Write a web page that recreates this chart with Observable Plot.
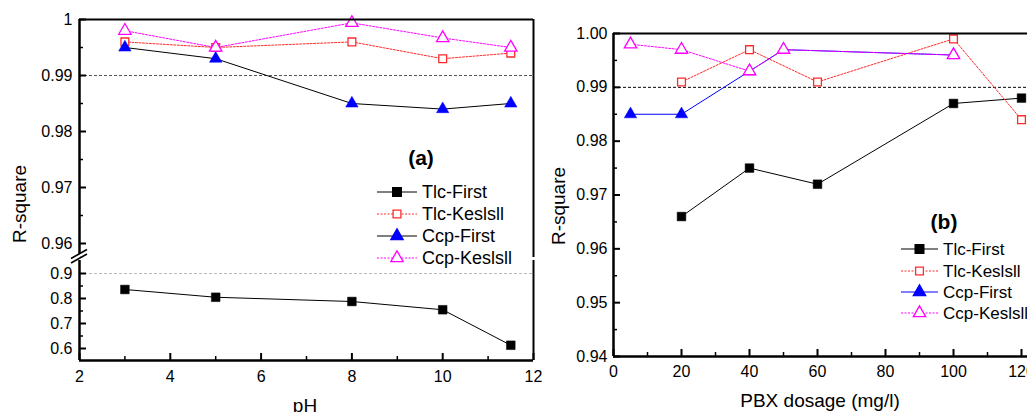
<!DOCTYPE html>
<html><head><meta charset="utf-8">
<script src="https://cdn.jsdelivr.net/npm/d3@7"></script>
<script src="https://cdn.jsdelivr.net/npm/@observablehq/plot@0.6"></script>
<style>
html,body{margin:0;padding:0;background:#fff;overflow:hidden;}
#root{position:relative;width:1027px;height:412px;overflow:hidden;font-family:"Liberation Sans",Arial,sans-serif;}
#root > svg, #root > div{position:absolute;}
</style>
</head><body>
<div id="root"></div>
<script>
// ---------- data ----------
const seriesNames = ["Tlc-First", "Tlc-Keslsll", "Ccp-First", "Ccp-Keslsll"];

// panel (a): pH
const phX = [3, 5, 8, 10, 11.5];
const phTlcFirst = [0.836, 0.805, 0.788, 0.755, 0.613];
const phTlcKesls = [0.996, 0.995, 0.996, 0.993, 0.994];
const phCcpFirst = [0.995, 0.993, 0.985, 0.984, 0.985];
const phCcpKesls = [0.998, 0.995, 0.9994, 0.9967, 0.995];

// panel (b): PBX dosage
const doseTlcX = [20, 40, 60, 100, 120];
const doseTlcFirst = [0.966, 0.975, 0.972, 0.987, 0.988];
const doseTlcKesls = [0.991, 0.997, 0.991, 0.999, 0.984];
const doseCcpX = [5, 20, 40, 50, 100];
const doseCcpFirst = [0.985, 0.985, 0.993, 0.997, 0.996];
const doseCcpKesls = [0.998, 0.997, 0.993, 0.997, 0.996];

// ticks
const aUpperYTicks = [0.96, 0.97, 0.98, 0.99, 1];
const aUpperYMinor = [0.965, 0.975, 0.985, 0.995];
const aLowerYTicks = [0.6, 0.7, 0.8, 0.9];
const aLowerYMinor = [0.65, 0.75, 0.85];
const aXTicks = [2, 4, 6, 8, 10, 12];
const aXMinor = [3, 5, 7, 9, 11];
const bYTicks = [0.94, 0.95, 0.96, 0.97, 0.98, 0.99, 1.0];
const bYMinor = [0.945, 0.955, 0.965, 0.975, 0.985, 0.995];
const bXTicks = [0, 20, 40, 60, 80, 100, 120];
const bXMinor = [10, 30, 50, 70, 90, 110];
const refLine = [0.99];
const refLineLow = [0.9];

// ---------- helpers ----------
const rows = (xs, ys) => xs.map((x, i) => ({x, y: ys[i]}));
const font = "'Liberation Sans', Arial, sans-serif";
const style = {fontFamily: font, fontSize: "16px", color: "#000", background: "none"};
const RED = "#ff2a2a", MAG = "#ff00ff", BLUE = "#0000ff";

const sq = (data) => Plot.dot(data, {x: "x", y: "y", symbol: "square", r: 4.9, fill: "#000", stroke: "#000", strokeWidth: 0.5});
const osq = (data) => Plot.dot(data, {x: "x", y: "y", symbol: "square", r: 4.4, fill: "#fff", stroke: RED, strokeWidth: 1.3});
const tri = (data) => Plot.dot(data, {x: "x", y: "y", symbol: "triangle", r: 4.6, fill: BLUE, stroke: BLUE, strokeWidth: 0.5});
const otri = (data) => Plot.dot(data, {x: "x", y: "y", symbol: "triangle", r: 4.6, fill: "#fff", stroke: MAG, strokeWidth: 1.3});
const ln = (data, stroke, dash) => Plot.line(data, {x: "x", y: "y", stroke, strokeWidth: 1, strokeDasharray: dash});

const root = document.getElementById("root");

// ---------- panel (a) upper ----------
const aW = 545, aML = 79, aMR = 12;
const aPW = aW - aML - aMR;
const aUpperDomain = [0.9575, 1];
const aXDomain = [2, 12];
const aUp = Plot.plot({
  width: aW, height: 258, marginLeft: aML, marginRight: aMR, marginTop: 19, marginBottom: 1,
  x: {domain: aXDomain, axis: null, label: null},
  y: {domain: aUpperDomain, label: null},
  style,
  marks: [
    Plot.ruleY(refLine, {stroke: "#555", strokeDasharray: "3,2", strokeWidth: 1}),
    Plot.tickY(aUpperYTicks, {y: d => d, insetRight: aPW - 7, strokeWidth: 2}),
    Plot.tickY(aUpperYMinor, {y: d => d, insetRight: aPW - 4, strokeWidth: 1.5}),
    Plot.axisY({ticks: aUpperYTicks, tickSize: 0, tickPadding: 7, fontSize: 16, label: null, tickFormat: d => String(+d.toFixed(2))}),
    ln(rows(phX, phCcpKesls), MAG, "2,1.5"),
    ln(rows(phX, phTlcKesls), RED, "2,1.5"),
    ln(rows(phX, phCcpFirst), "#000", null),
    osq(rows(phX, phTlcKesls)),
    tri(rows(phX, phCcpFirst)),
    otri(rows(phX, phCcpKesls)),
    Plot.ruleX([aXDomain[0]], {strokeWidth: 2.5}),
    Plot.ruleX([aXDomain[1]], {strokeWidth: 2}),
    Plot.ruleY([aUpperDomain[1]], {strokeWidth: 2})
  ]
});
aUp.style.left = "0px"; aUp.style.top = "0px";
root.appendChild(aUp);

// ---------- panel (a) lower ----------
const aLowerDomain = [0.552, 0.952];
const aLoH = 132, aLoMT = 2, aLoMB = 30;
const aLoPH = aLoH - aLoMT - aLoMB;
const aLo = Plot.plot({
  width: aW, height: aLoH, marginLeft: aML, marginRight: aMR, marginTop: aLoMT, marginBottom: aLoMB,
  x: {domain: aXDomain, label: null},
  y: {domain: aLowerDomain, label: null},
  style,
  marks: [
    Plot.ruleY(refLineLow, {stroke: "#bbb", strokeDasharray: "3,2", strokeWidth: 1}),
    Plot.tickY(aLowerYTicks, {y: d => d, insetRight: aPW - 7, strokeWidth: 2}),
    Plot.tickY(aLowerYMinor, {y: d => d, insetRight: aPW - 4, strokeWidth: 1.5}),
    Plot.tickX(aXTicks, {x: d => d, insetTop: aLoPH - 7, strokeWidth: 2}),
    Plot.tickX(aXMinor, {x: d => d, insetTop: aLoPH - 4, strokeWidth: 1.5}),
    Plot.axisY({ticks: aLowerYTicks, tickSize: 0, tickPadding: 7, fontSize: 16, label: null, tickFormat: d => String(+d.toFixed(1))}),
    Plot.axisX({ticks: aXTicks, tickSize: 0, tickPadding: 10, fontSize: 16, label: null, tickFormat: d => String(d)}),
    ln(rows(phX, phTlcFirst), "#000", null),
    sq(rows(phX, phTlcFirst)),
    Plot.ruleX([aXDomain[0]], {strokeWidth: 2.5}),
    Plot.ruleX([aXDomain[1]], {strokeWidth: 2}),
    Plot.ruleY([aLowerDomain[0]], {strokeWidth: 2.5})
  ]
});
aLo.style.left = "0px"; aLo.style.top = "258px";
root.appendChild(aLo);

// ---------- panel (b) ----------
const bW = 525, bML = 83, bH = 390, bMT = 33, bMB = 34;
const bPW = bW - bML, bPH = bH - bMT - bMB;
const bXDomain = [0, 130], bYDomain = [0.94, 1.0];
const pb = Plot.plot({
  width: bW, height: bH, marginLeft: bML, marginRight: 0, marginTop: bMT, marginBottom: bMB,
  x: {domain: bXDomain, label: null},
  y: {domain: bYDomain, label: null},
  style,
  marks: [
    Plot.ruleY(refLine, {stroke: "#000", strokeDasharray: "3,2", strokeWidth: 1}),
    Plot.tickY(bYTicks, {y: d => d, insetRight: bPW - 7, strokeWidth: 2}),
    Plot.tickY(bYMinor, {y: d => d, insetRight: bPW - 4, strokeWidth: 1.5}),
    Plot.tickX(bXTicks, {x: d => d, insetTop: bPH - 7, strokeWidth: 2}),
    Plot.tickX(bXMinor, {x: d => d, insetTop: bPH - 4, strokeWidth: 1.5}),
    Plot.axisY({ticks: bYTicks, tickSize: 0, tickPadding: 6, fontSize: 16, label: null, tickFormat: d => d.toFixed(2)}),
    Plot.axisX({ticks: bXTicks, tickSize: 0, tickPadding: 9, fontSize: 16, label: null, tickFormat: d => String(d)}),
    ln(rows(doseTlcX, doseTlcFirst), "#000", null),
    ln(rows(doseTlcX, doseTlcKesls), RED, "2,1.5"),
    ln(rows(doseCcpX, doseCcpFirst), BLUE, null),
    ln(rows(doseCcpX, doseCcpKesls), MAG, "2,1.5"),
    sq(rows(doseTlcX, doseTlcFirst)),
    osq(rows(doseTlcX, doseTlcKesls)),
    tri(rows(doseCcpX, doseCcpFirst)),
    otri(rows(doseCcpX, doseCcpKesls)),
    Plot.ruleX([bXDomain[0]], {strokeWidth: 2.5}),
    Plot.ruleY([bYDomain[0]], {strokeWidth: 2.5}),
    Plot.ruleY([bYDomain[1]], {strokeWidth: 2})
  ]
});
pb.style.left = "530px"; pb.style.top = "0px";
root.appendChild(pb);

// ---------- overlay: titles, legends, axis break ----------
const ov = d3.select(root).append("svg")
  .attr("width", 1027).attr("height", 412)
  .style("left", "0px").style("top", "0px")
  .attr("font-family", font);

// axis break marks
const brk = ov.append("g");
brk.append("path").attr("d", "M71,262 L87,253 L87,250 L71,259 Z").attr("fill", "#fff");
brk.append("line").attr("x1", 71).attr("y1", 263).attr("x2", 87).attr("y2", 254).attr("stroke", "#000").attr("stroke-width", 1.6);
brk.append("line").attr("x1", 71).attr("y1", 258.5).attr("x2", 87).attr("y2", 249.5).attr("stroke", "#000").attr("stroke-width", 1.6);

// axis titles
const txt = (x, y, s, size, opts = {}) => {
  const t = ov.append("text").attr("x", x).attr("y", y).attr("font-size", size).attr("text-anchor", opts.anchor || "middle").text(s);
  if (opts.rotate) t.attr("transform", `rotate(-90 ${x} ${y})`);
  if (opts.bold) t.attr("font-weight", "bold");
  return t;
};
txt(26, 204, "R-square", 19, {rotate: true});
txt(565, 206, "R-square", 19, {rotate: true});
txt(305, 412, "pH", 19);
txt(820, 407, "PBX dosage (mg/l)", 19);
txt(421, 165, "(a)", 21, {bold: true});
txt(944, 229, "(b)", 21, {bold: true});

// legends
const legendStyles = {
  a: [
    {line: "#000", dash: null, sym: d3.symbolSquare, size: 76, fill: "#000", stroke: "#000"},
    {line: RED, dash: "2,1.5", sym: d3.symbolSquare, size: 61, fill: "#fff", stroke: RED},
    {line: "#000", dash: null, sym: d3.symbolTriangle, size: 66, fill: BLUE, stroke: BLUE},
    {line: MAG, dash: "2,1.5", sym: d3.symbolTriangle, size: 66, fill: "#fff", stroke: MAG}
  ],
  b: [
    {line: "#000", dash: null, sym: d3.symbolSquare, size: 76, fill: "#000", stroke: "#000"},
    {line: RED, dash: "2,1.5", sym: d3.symbolSquare, size: 61, fill: "#fff", stroke: RED},
    {line: BLUE, dash: null, sym: d3.symbolTriangle, size: 66, fill: BLUE, stroke: BLUE},
    {line: MAG, dash: "2,1.5", sym: d3.symbolTriangle, size: 66, fill: "#fff", stroke: MAG}
  ]
};
function legend(key, x0, x1, tx, ys, fs) {
  seriesNames.forEach((name, i) => {
    const s = legendStyles[key][i], y = ys[i], xm = (x0 + x1) / 2;
    const g = ov.append("g");
    g.append("line").attr("x1", x0).attr("x2", x1).attr("y1", y).attr("y2", y)
      .attr("stroke", s.line).attr("stroke-width", 1).attr("stroke-dasharray", s.dash);
    g.append("path").attr("d", d3.symbol(s.sym, s.size)()).attr("transform", `translate(${xm},${y})`)
      .attr("fill", s.fill).attr("stroke", s.stroke).attr("stroke-width", 1.3);
    g.append("text").attr("x", tx).attr("y", y + fs * 0.36).attr("font-size", fs).text(name);
  });
}
legend("a", 377, 417, 422, [192, 214, 236, 258], 18);
legend("b", 901, 938, 943, [249, 271, 292, 313], 17);
</script>
</body></html>
